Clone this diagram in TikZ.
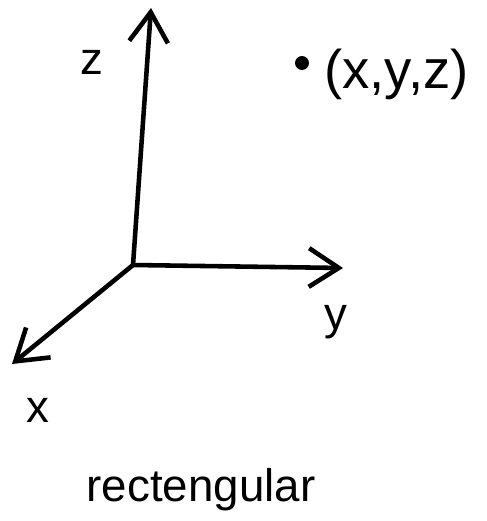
\documentclass[tikz,border=0pt]{standalone}
\usepackage{fontspec}
\setmainfont{Liberation Sans}
\usetikzlibrary{arrows.meta}

\tikzset{
    axis/.style={line width=2.6pt, line cap=round, -{Straight Barb[length=17pt,width=22pt,line width=2.6pt]}},
    lbl/.style={font=\fontsize{26}{30}\selectfont, inner sep=0pt},
}

\begin{document}
\begin{tikzpicture}[x=0.02cm, y=-0.02cm]
    \useasboundingbox (0,0) rectangle (487,521);

    \coordinate (origin) at (133,265);
    \coordinate (zend) at (151,8);
    \coordinate (yend) at (343,268);
    \coordinate (xend) at (12,364);

    \draw[axis] (origin) -- (zend);
    \draw[axis] (origin) -- (yend);
    \draw[axis] (origin) -- (xend);

    \node[lbl] (zlab) at (92,62) {z};
    \node[lbl] (ylab) at (336,322) {y};
    \node[lbl] (xlab) at (38,410) {x};

    \node[circle, fill, inner sep=2.8pt] (pt) at (302,63) {};
    \node[lbl, anchor=west, font=\fontsize{31}{34}\selectfont] (ptlab) at (324,74) {(x,y,z)};

    \node[lbl] (title) at (201,490) {rectengular};
\end{tikzpicture}
\end{document}
